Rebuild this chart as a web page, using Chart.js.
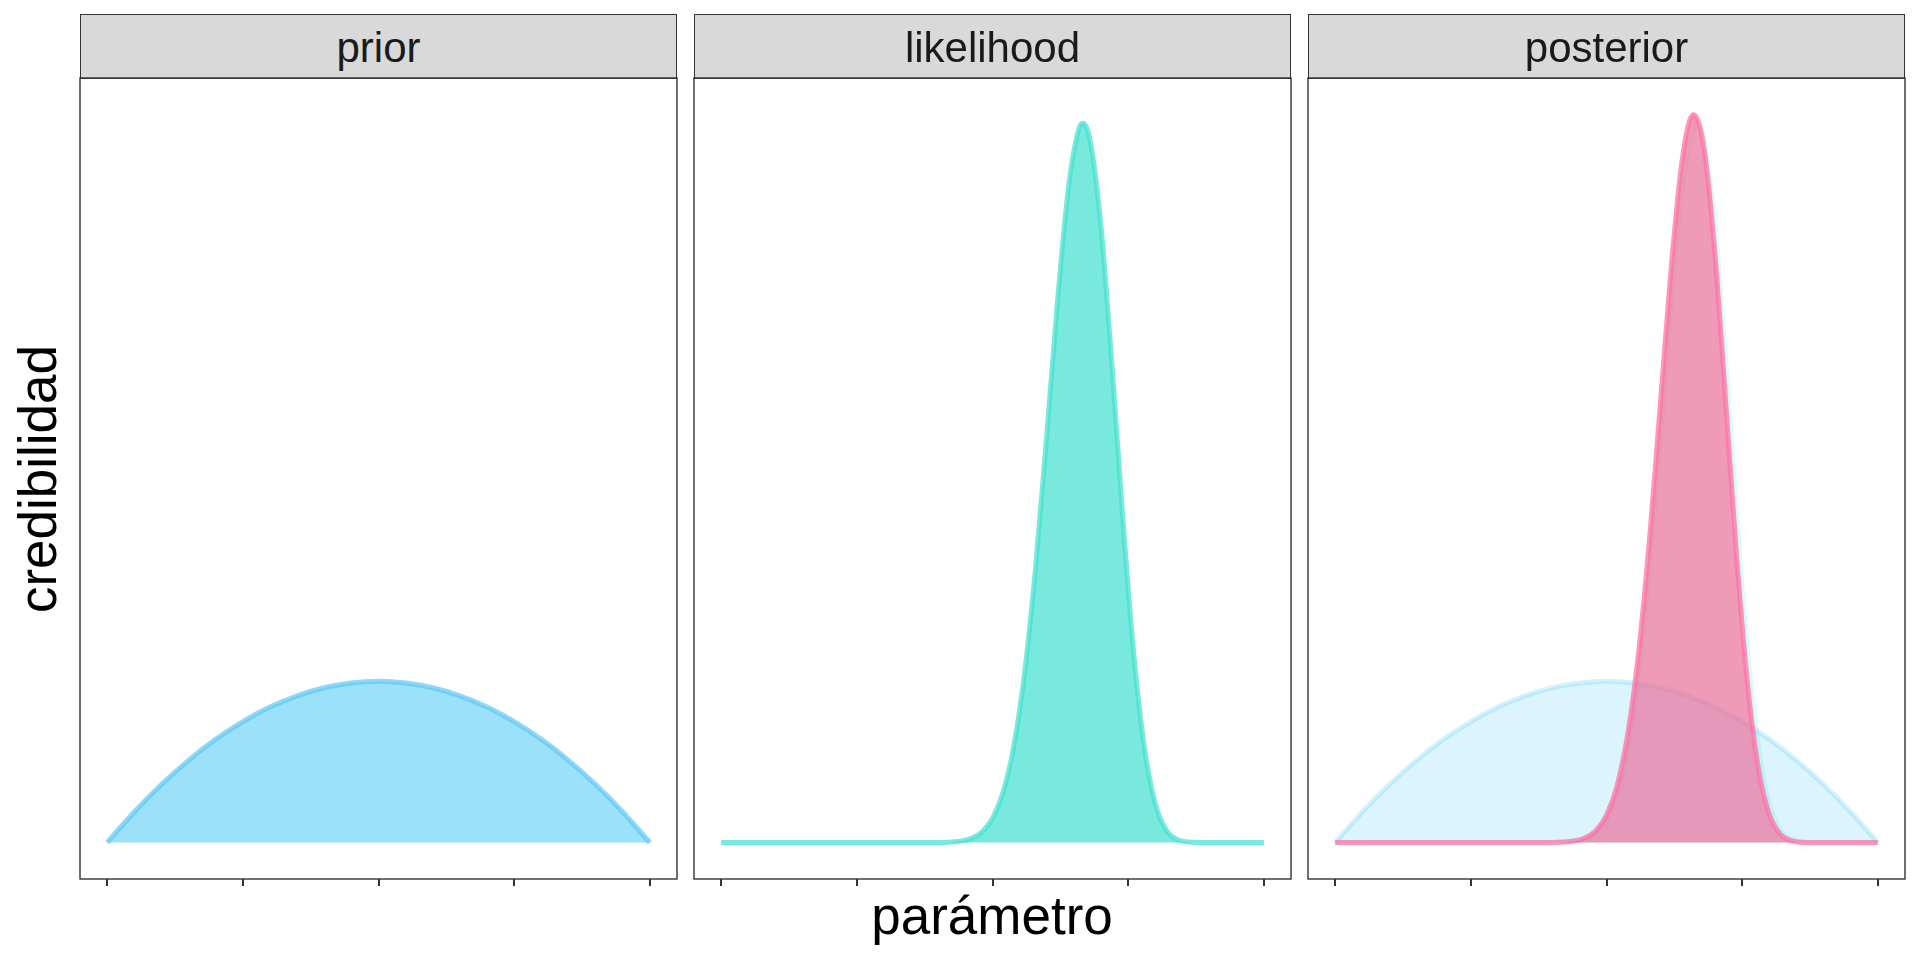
<!DOCTYPE html>
<html>
<head>
<meta charset="utf-8">
<script src="https://cdn.jsdelivr.net/npm/chart.js@4/dist/chart.umd.min.js"></script>
<style>
  body { margin:0; width:1920px; height:960px; background:#fff; overflow:hidden; position:relative;
         font-family:"Liberation Sans", Arial, Helvetica, sans-serif; }
  .strip { position:absolute; box-sizing:border-box; background:#d9d9d9; border:1.4px solid #333;
           color:#1a1a1a; font-size:42px; line-height:1; text-align:center; }
  .strip span { position:absolute; left:0; right:0; top:12px; }
  canvas { position:absolute; }
  .title { position:absolute; color:#000; font-size:53px; line-height:1; white-space:nowrap; }
</style>
</head>
<body>
<div id="root"></div>
<div class="title" style="left:992px; top:915px; transform:translate(-50%,-50%);">parámetro</div>
<div class="title" style="left:37px; top:479px; transform:translate(-50%,-50%) rotate(-90deg);">credibilidad</div>
<script>
// facet names
const panelNames = ["prior", "likelihood", "posterior"];

// x ticks (no labels shown)
const tickValues = [0, 0.25, 0.5, 0.75, 1];

// prior curve
const priorX = [0,0.05,0.1,0.15,0.2,0.25,0.3,0.35,0.4,0.45,0.5,0.55,0.6,0.65,0.7,0.75,0.8,0.85,0.9,0.95,1];
const priorY = [0,0.0421,0.0797,0.1130,0.1418,0.1661,0.1861,0.2016,0.2126,0.2193,0.2215,0.2193,0.2126,0.2016,0.1861,0.1661,0.1418,0.1130,0.0797,0.0421,0];

// likelihood curve
const likeX = [0,0.1,0.2,0.3,0.35,0.4,0.42,0.44,0.46,0.48,0.5,0.52,0.54,0.56,0.58,0.6,0.62,0.64,0.66,0.667,0.68,0.7,0.72,0.74,0.76,0.78,0.8,0.82,0.84,0.86,0.88,0.9,0.95,1];
const likeY = [0,0,0,0,0,0.0002,0.0006,0.0019,0.0055,0.0141,0.0331,0.0701,0.1355,0.2384,0.3828,0.5599,0.7451,0.8997,0.9822,0.988,0.9643,0.8456,0.6565,0.4463,0.2615,0.1297,0.0531,0.0173,0.0043,0.0008,0.0001,0,0,0];

// posterior curve
const postX = [0,0.1,0.2,0.3,0.35,0.4,0.42,0.44,0.46,0.48,0.5,0.52,0.54,0.56,0.58,0.6,0.62,0.64,0.66,0.68,0.7,0.72,0.74,0.76,0.78,0.8,0.82,0.84,0.86,0.88,0.9,0.95,1];
const postY = [0,0,0,0,0,0.0002,0.0007,0.0021,0.0062,0.0160,0.0375,0.0794,0.1526,0.2666,0.4230,0.6096,0.7963,0.9404,1.0,0.9520,0.8056,0.6005,0.3895,0.2165,0.1010,0.0385,0.0116,0.0026,0.0004,0,0,0,0];

// layout of the facet panels (px)
const panelLeft = [80, 694, 1308];
const panelWidth = 597;
const stripTop = 14, stripBottom = 78, panelBottom = 879;
const pad = 10;

const toPoints = (xs, ys) => xs.map((x, i) => ({ x: x, y: ys[i] }));

function areaSet(label, xs, ys, fill, line){
  return {
    label: label,
    data: toPoints(xs, ys),
    backgroundColor: fill,
    borderColor: line,
    borderWidth: 5,
    fill: "origin",
    pointRadius: 0,
    cubicInterpolationMode: "monotone"
  };
}

// datasets for each facet; first in list is drawn on top
function panelDatasets(name){
  if(name === "prior"){
    return [areaSet("prior", priorX, priorY, "rgba(111,212,246,0.7)", "rgba(95,200,244,0.7)")];
  }
  if(name === "likelihood"){
    return [areaSet("likelihood", likeX, likeY, "rgba(64,224,208,0.7)", "rgba(64,224,208,0.7)")];
  }
  return [
    areaSet("posterior", postX, postY, "rgba(236,112,154,0.7)", "rgba(255,115,165,0.75)"),
    areaSet("likelihood", likeX, likeY, "rgba(64,224,208,0.05)", "rgba(64,224,208,0.18)"),
    areaSet("prior", priorX, priorY, "rgba(111,212,246,0.25)", "rgba(111,212,246,0.3)")
  ];
}

// panel border drawn over the data, like ggplot
const borderPlugin = {
  id: "panelBorder",
  afterDraw(chart){
    const a = chart.chartArea, ctx = chart.ctx;
    ctx.save();
    ctx.strokeStyle = "#333";
    ctx.lineWidth = 1.4;
    ctx.strokeRect(a.left, a.top, a.right - a.left, a.bottom - a.top);
    ctx.restore();
  }
};

const yMax = Math.max(...priorY, ...likeY, ...postY);
const root = document.getElementById("root");

panelNames.forEach((name, i) => {
  // strip header
  const s = document.createElement("div");
  s.className = "strip";
  s.style.left = panelLeft[i] + "px";
  s.style.top = stripTop + "px";
  s.style.width = panelWidth + "px";
  s.style.height = (stripBottom - stripTop + 1) + "px";
  s.innerHTML = `<span>${name}</span>`;
  root.appendChild(s);

  // canvas for the panel
  const c = document.createElement("canvas");
  const cw = panelWidth + 2 * pad, ch = panelBottom - stripBottom + 8 + 20;
  c.width = cw; c.height = ch;
  c.style.left = (panelLeft[i] - pad) + "px";
  c.style.top = (stripBottom - 8) + "px";
  c.style.width = cw + "px"; c.style.height = ch + "px";
  root.appendChild(c);

  new Chart(c.getContext("2d"), {
    type: "line",
    data: { datasets: panelDatasets(name) },
    plugins: [borderPlugin],
    options: {
      responsive: false,
      animation: false,
      devicePixelRatio: 1,
      layout: { padding: { left: pad, right: pad, top: 8, bottom: 0 } },
      plugins: { legend: { display: false }, tooltip: { enabled: false } },
      scales: {
        x: {
          type: "linear",
          min: -0.05, max: 1.05,
          afterBuildTicks: axis => { axis.ticks = tickValues.map(v => ({ value: v })); },
          afterFit: axis => { axis.height = 20; },
          ticks: { display: false },
          grid: { drawOnChartArea: false, drawTicks: true, tickLength: 7, color: "#333", lineWidth: 2 },
          border: { display: false }
        },
        y: {
          display: false,
          min: -0.05 * yMax,
          max: 1.05 * yMax
        }
      }
    }
  });
});
</script>
</body>
</html>
